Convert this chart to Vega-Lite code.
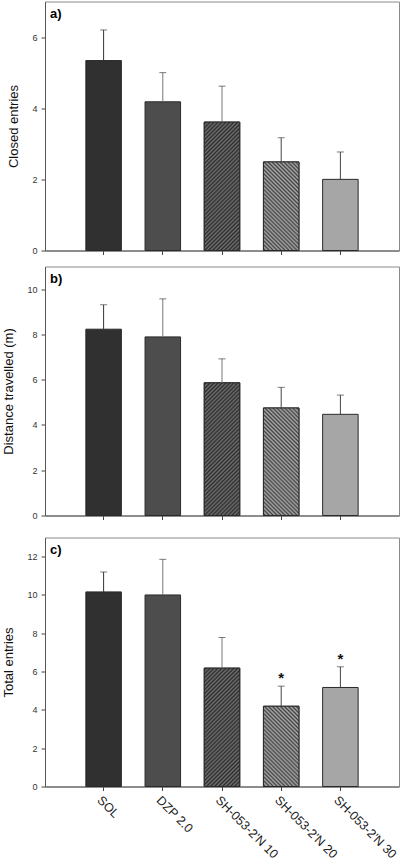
{
"$schema":"https://vega.github.io/schema/vega-lite/v6.json",
"padding":{"left":2,"top":0.5,"right":1,"bottom":0},
"spacing":9,
"config":{"font":"Liberation Sans","view":{"stroke":"#8a8a8a","strokeWidth":1},
"axis":{"domainColor":"#555","tickColor":"#444","tickSize":4,"labelColor":"#333","labelFontSize":9,"labelPadding":4,"titleFontSize":13,"titleFontWeight":"normal","titleColor":"#111","grid":false},
"concat":{"spacing":9}},
"vconcat":[
{
"width":354,"height":249,
"title":{"text":"a)","anchor":"start","frame":"group","offset":-19,"dx":5,"fontSize":13,"fontWeight":"bold","color":"#000"},
"data":{"values":[
{"group":"SOL","mean":5.34,"upper":6.2},
{"group":"DZP 2.0","mean":4.18,"upper":5.0},
{"group":"SH-053-2'N 10","mean":3.61,"upper":4.62},
{"group":"SH-053-2'N 20","mean":2.49,"upper":3.17},
{"group":"SH-053-2'N 30","mean":2.0,"upper":2.77}]},
"encoding":{
"x":{"field":"group","type":"nominal","sort":null,"scale":{"paddingInner":0.4,"paddingOuter":0.69},"axis":{"title":null,"labels":false}},
"y":{"field":"mean","type":"quantitative","title":"Closed entries","scale":{"domain":[0,7],"nice":false},"axis":{"values":[0,2,4,6],"titlePadding":11}}},
"layer":[
{"mark":{"type":"bar","stroke":"#2a2a2a","strokeWidth":1},"encoding":{"color":{"field":"group","type":"nominal","sort":null,"scale":{"range":["#303030","#4d4d4d","#555555","#787878","#a6a6a6"]},"legend":null}}},
{"transform":[{"filter":{"field":"group","equal":"SH-053-2'N 10"}}],"mark":{"type":"bar","stroke":"#2a2a2a","strokeWidth":1,"fill":{"gradient":"linear","x1":0,"y1":0,"x2":0.396,"y2":1.433,"stops":[{"offset":0,"color":"#6f6f6f"},{"offset":0.01,"color":"#2d2d2d"},{"offset":0.02,"color":"#6f6f6f"},{"offset":0.03,"color":"#2d2d2d"},{"offset":0.04,"color":"#6f6f6f"},{"offset":0.05,"color":"#2d2d2d"},{"offset":0.06,"color":"#6f6f6f"},{"offset":0.07,"color":"#2d2d2d"},{"offset":0.08,"color":"#6f6f6f"},{"offset":0.09,"color":"#2d2d2d"},{"offset":0.1,"color":"#6f6f6f"},{"offset":0.11,"color":"#2d2d2d"},{"offset":0.12,"color":"#6f6f6f"},{"offset":0.13,"color":"#2d2d2d"},{"offset":0.14,"color":"#6f6f6f"},{"offset":0.15,"color":"#2d2d2d"},{"offset":0.16,"color":"#6f6f6f"},{"offset":0.17,"color":"#2d2d2d"},{"offset":0.18,"color":"#6f6f6f"},{"offset":0.19,"color":"#2d2d2d"},{"offset":0.2,"color":"#6f6f6f"},{"offset":0.21,"color":"#2d2d2d"},{"offset":0.22,"color":"#6f6f6f"},{"offset":0.23,"color":"#2d2d2d"},{"offset":0.24,"color":"#6f6f6f"},{"offset":0.25,"color":"#2d2d2d"},{"offset":0.26,"color":"#6f6f6f"},{"offset":0.27,"color":"#2d2d2d"},{"offset":0.28,"color":"#6f6f6f"},{"offset":0.29,"color":"#2d2d2d"},{"offset":0.3,"color":"#6f6f6f"},{"offset":0.31,"color":"#2d2d2d"},{"offset":0.32,"color":"#6f6f6f"},{"offset":0.33,"color":"#2d2d2d"},{"offset":0.34,"color":"#6f6f6f"},{"offset":0.35,"color":"#2d2d2d"},{"offset":0.36,"color":"#6f6f6f"},{"offset":0.37,"color":"#2d2d2d"},{"offset":0.38,"color":"#6f6f6f"},{"offset":0.39,"color":"#2d2d2d"},{"offset":0.4,"color":"#6f6f6f"},{"offset":0.41,"color":"#2d2d2d"},{"offset":0.42,"color":"#6f6f6f"},{"offset":0.43,"color":"#2d2d2d"},{"offset":0.44,"color":"#6f6f6f"},{"offset":0.45,"color":"#2d2d2d"},{"offset":0.46,"color":"#6f6f6f"},{"offset":0.47,"color":"#2d2d2d"},{"offset":0.48,"color":"#6f6f6f"},{"offset":0.49,"color":"#2d2d2d"},{"offset":0.5,"color":"#6f6f6f"},{"offset":0.51,"color":"#2d2d2d"},{"offset":0.52,"color":"#6f6f6f"},{"offset":0.53,"color":"#2d2d2d"},{"offset":0.54,"color":"#6f6f6f"},{"offset":0.55,"color":"#2d2d2d"},{"offset":0.56,"color":"#6f6f6f"},{"offset":0.57,"color":"#2d2d2d"},{"offset":0.58,"color":"#6f6f6f"},{"offset":0.59,"color":"#2d2d2d"},{"offset":0.6,"color":"#6f6f6f"},{"offset":0.61,"color":"#2d2d2d"},{"offset":0.62,"color":"#6f6f6f"},{"offset":0.63,"color":"#2d2d2d"},{"offset":0.64,"color":"#6f6f6f"},{"offset":0.65,"color":"#2d2d2d"},{"offset":0.66,"color":"#6f6f6f"},{"offset":0.67,"color":"#2d2d2d"},{"offset":0.68,"color":"#6f6f6f"},{"offset":0.69,"color":"#2d2d2d"},{"offset":0.7,"color":"#6f6f6f"},{"offset":0.71,"color":"#2d2d2d"},{"offset":0.72,"color":"#6f6f6f"},{"offset":0.73,"color":"#2d2d2d"},{"offset":0.74,"color":"#6f6f6f"},{"offset":0.75,"color":"#2d2d2d"},{"offset":0.76,"color":"#6f6f6f"},{"offset":0.77,"color":"#2d2d2d"},{"offset":0.78,"color":"#6f6f6f"},{"offset":0.79,"color":"#2d2d2d"},{"offset":0.8,"color":"#6f6f6f"},{"offset":0.81,"color":"#2d2d2d"},{"offset":0.82,"color":"#6f6f6f"},{"offset":0.83,"color":"#2d2d2d"},{"offset":0.84,"color":"#6f6f6f"},{"offset":0.85,"color":"#2d2d2d"},{"offset":0.86,"color":"#6f6f6f"},{"offset":0.87,"color":"#2d2d2d"},{"offset":0.88,"color":"#6f6f6f"},{"offset":0.89,"color":"#2d2d2d"},{"offset":0.9,"color":"#6f6f6f"},{"offset":0.91,"color":"#2d2d2d"},{"offset":0.92,"color":"#6f6f6f"},{"offset":0.93,"color":"#2d2d2d"},{"offset":0.94,"color":"#6f6f6f"},{"offset":0.95,"color":"#2d2d2d"},{"offset":0.96,"color":"#6f6f6f"},{"offset":0.97,"color":"#2d2d2d"},{"offset":0.98,"color":"#6f6f6f"},{"offset":0.99,"color":"#2d2d2d"},{"offset":1,"color":"#6f6f6f"}]}}},
{"transform":[{"filter":{"field":"group","equal":"SH-053-2'N 20"}}],"mark":{"type":"bar","stroke":"#2a2a2a","strokeWidth":1,"fill":{"gradient":"linear","x1":0,"y1":1,"x2":0.772,"y2":-0.926,"stops":[{"offset":0,"color":"#a9a9a9"},{"offset":0.01,"color":"#444444"},{"offset":0.02,"color":"#a9a9a9"},{"offset":0.03,"color":"#444444"},{"offset":0.04,"color":"#a9a9a9"},{"offset":0.05,"color":"#444444"},{"offset":0.06,"color":"#a9a9a9"},{"offset":0.07,"color":"#444444"},{"offset":0.08,"color":"#a9a9a9"},{"offset":0.09,"color":"#444444"},{"offset":0.1,"color":"#a9a9a9"},{"offset":0.11,"color":"#444444"},{"offset":0.12,"color":"#a9a9a9"},{"offset":0.13,"color":"#444444"},{"offset":0.14,"color":"#a9a9a9"},{"offset":0.15,"color":"#444444"},{"offset":0.16,"color":"#a9a9a9"},{"offset":0.17,"color":"#444444"},{"offset":0.18,"color":"#a9a9a9"},{"offset":0.19,"color":"#444444"},{"offset":0.2,"color":"#a9a9a9"},{"offset":0.21,"color":"#444444"},{"offset":0.22,"color":"#a9a9a9"},{"offset":0.23,"color":"#444444"},{"offset":0.24,"color":"#a9a9a9"},{"offset":0.25,"color":"#444444"},{"offset":0.26,"color":"#a9a9a9"},{"offset":0.27,"color":"#444444"},{"offset":0.28,"color":"#a9a9a9"},{"offset":0.29,"color":"#444444"},{"offset":0.3,"color":"#a9a9a9"},{"offset":0.31,"color":"#444444"},{"offset":0.32,"color":"#a9a9a9"},{"offset":0.33,"color":"#444444"},{"offset":0.34,"color":"#a9a9a9"},{"offset":0.35,"color":"#444444"},{"offset":0.36,"color":"#a9a9a9"},{"offset":0.37,"color":"#444444"},{"offset":0.38,"color":"#a9a9a9"},{"offset":0.39,"color":"#444444"},{"offset":0.4,"color":"#a9a9a9"},{"offset":0.41,"color":"#444444"},{"offset":0.42,"color":"#a9a9a9"},{"offset":0.43,"color":"#444444"},{"offset":0.44,"color":"#a9a9a9"},{"offset":0.45,"color":"#444444"},{"offset":0.46,"color":"#a9a9a9"},{"offset":0.47,"color":"#444444"},{"offset":0.48,"color":"#a9a9a9"},{"offset":0.49,"color":"#444444"},{"offset":0.5,"color":"#a9a9a9"},{"offset":0.51,"color":"#444444"},{"offset":0.52,"color":"#a9a9a9"},{"offset":0.53,"color":"#444444"},{"offset":0.54,"color":"#a9a9a9"},{"offset":0.55,"color":"#444444"},{"offset":0.56,"color":"#a9a9a9"},{"offset":0.57,"color":"#444444"},{"offset":0.58,"color":"#a9a9a9"},{"offset":0.59,"color":"#444444"},{"offset":0.6,"color":"#a9a9a9"},{"offset":0.61,"color":"#444444"},{"offset":0.62,"color":"#a9a9a9"},{"offset":0.63,"color":"#444444"},{"offset":0.64,"color":"#a9a9a9"},{"offset":0.65,"color":"#444444"},{"offset":0.66,"color":"#a9a9a9"},{"offset":0.67,"color":"#444444"},{"offset":0.68,"color":"#a9a9a9"},{"offset":0.69,"color":"#444444"},{"offset":0.7,"color":"#a9a9a9"},{"offset":0.71,"color":"#444444"},{"offset":0.72,"color":"#a9a9a9"},{"offset":0.73,"color":"#444444"},{"offset":0.74,"color":"#a9a9a9"},{"offset":0.75,"color":"#444444"},{"offset":0.76,"color":"#a9a9a9"},{"offset":0.77,"color":"#444444"},{"offset":0.78,"color":"#a9a9a9"},{"offset":0.79,"color":"#444444"},{"offset":0.8,"color":"#a9a9a9"},{"offset":0.81,"color":"#444444"},{"offset":0.82,"color":"#a9a9a9"},{"offset":0.83,"color":"#444444"},{"offset":0.84,"color":"#a9a9a9"},{"offset":0.85,"color":"#444444"},{"offset":0.86,"color":"#a9a9a9"},{"offset":0.87,"color":"#444444"},{"offset":0.88,"color":"#a9a9a9"},{"offset":0.89,"color":"#444444"},{"offset":0.9,"color":"#a9a9a9"},{"offset":0.91,"color":"#444444"},{"offset":0.92,"color":"#a9a9a9"},{"offset":0.93,"color":"#444444"},{"offset":0.94,"color":"#a9a9a9"},{"offset":0.95,"color":"#444444"},{"offset":0.96,"color":"#a9a9a9"},{"offset":0.97,"color":"#444444"},{"offset":0.98,"color":"#a9a9a9"},{"offset":0.99,"color":"#444444"},{"offset":1,"color":"#a9a9a9"}]}}},
{"mark":{"type":"rule","strokeWidth":1},"encoding":{"y2":{"field":"upper"},"stroke":{"field":"group","type":"nominal","sort":null,"scale":{"range":["#333333","#777777","#777777","#444444","#444444"]},"legend":null}}},
{"mark":{"type":"tick","color":"#444","size":7,"thickness":1},"encoding":{"y":{"field":"upper","type":"quantitative","title":"Closed entries","scale":{"domain":[0,7],"nice":false},"axis":{"values":[0,2,4,6],"titlePadding":11}}}}
]
},
{
"width":354,"height":249,
"title":{"text":"b)","anchor":"start","frame":"group","offset":-19,"dx":5,"fontSize":13,"fontWeight":"bold","color":"#000"},
"data":{"values":[
{"group":"SOL","mean":8.23,"upper":9.31},
{"group":"DZP 2.0","mean":7.89,"upper":9.57},
{"group":"SH-053-2'N 10","mean":5.86,"upper":6.92},
{"group":"SH-053-2'N 20","mean":4.75,"upper":5.66},
{"group":"SH-053-2'N 30","mean":4.47,"upper":5.32}]},
"encoding":{
"x":{"field":"group","type":"nominal","sort":null,"scale":{"paddingInner":0.4,"paddingOuter":0.69},"axis":{"title":" ","titleFontSize":7,"titlePadding":0,"labels":false}},
"y":{"field":"mean","type":"quantitative","title":"Distance travelled (m)","scale":{"domain":[0,11],"nice":false},"axis":{"values":[0,2,4,6,8,10],"titlePadding":11}}},
"layer":[
{"mark":{"type":"bar","stroke":"#2a2a2a","strokeWidth":1},"encoding":{"color":{"field":"group","type":"nominal","sort":null,"scale":{"range":["#303030","#4d4d4d","#555555","#787878","#a6a6a6"]},"legend":null}}},
{"transform":[{"filter":{"field":"group","equal":"SH-053-2'N 10"}}],"mark":{"type":"bar","stroke":"#2a2a2a","strokeWidth":1,"fill":{"gradient":"linear","x1":0,"y1":0,"x2":0.3725,"y2":1.392,"stops":[{"offset":0,"color":"#6f6f6f"},{"offset":0.01,"color":"#2d2d2d"},{"offset":0.02,"color":"#6f6f6f"},{"offset":0.03,"color":"#2d2d2d"},{"offset":0.04,"color":"#6f6f6f"},{"offset":0.05,"color":"#2d2d2d"},{"offset":0.06,"color":"#6f6f6f"},{"offset":0.07,"color":"#2d2d2d"},{"offset":0.08,"color":"#6f6f6f"},{"offset":0.09,"color":"#2d2d2d"},{"offset":0.1,"color":"#6f6f6f"},{"offset":0.11,"color":"#2d2d2d"},{"offset":0.12,"color":"#6f6f6f"},{"offset":0.13,"color":"#2d2d2d"},{"offset":0.14,"color":"#6f6f6f"},{"offset":0.15,"color":"#2d2d2d"},{"offset":0.16,"color":"#6f6f6f"},{"offset":0.17,"color":"#2d2d2d"},{"offset":0.18,"color":"#6f6f6f"},{"offset":0.19,"color":"#2d2d2d"},{"offset":0.2,"color":"#6f6f6f"},{"offset":0.21,"color":"#2d2d2d"},{"offset":0.22,"color":"#6f6f6f"},{"offset":0.23,"color":"#2d2d2d"},{"offset":0.24,"color":"#6f6f6f"},{"offset":0.25,"color":"#2d2d2d"},{"offset":0.26,"color":"#6f6f6f"},{"offset":0.27,"color":"#2d2d2d"},{"offset":0.28,"color":"#6f6f6f"},{"offset":0.29,"color":"#2d2d2d"},{"offset":0.3,"color":"#6f6f6f"},{"offset":0.31,"color":"#2d2d2d"},{"offset":0.32,"color":"#6f6f6f"},{"offset":0.33,"color":"#2d2d2d"},{"offset":0.34,"color":"#6f6f6f"},{"offset":0.35,"color":"#2d2d2d"},{"offset":0.36,"color":"#6f6f6f"},{"offset":0.37,"color":"#2d2d2d"},{"offset":0.38,"color":"#6f6f6f"},{"offset":0.39,"color":"#2d2d2d"},{"offset":0.4,"color":"#6f6f6f"},{"offset":0.41,"color":"#2d2d2d"},{"offset":0.42,"color":"#6f6f6f"},{"offset":0.43,"color":"#2d2d2d"},{"offset":0.44,"color":"#6f6f6f"},{"offset":0.45,"color":"#2d2d2d"},{"offset":0.46,"color":"#6f6f6f"},{"offset":0.47,"color":"#2d2d2d"},{"offset":0.48,"color":"#6f6f6f"},{"offset":0.49,"color":"#2d2d2d"},{"offset":0.5,"color":"#6f6f6f"},{"offset":0.51,"color":"#2d2d2d"},{"offset":0.52,"color":"#6f6f6f"},{"offset":0.53,"color":"#2d2d2d"},{"offset":0.54,"color":"#6f6f6f"},{"offset":0.55,"color":"#2d2d2d"},{"offset":0.56,"color":"#6f6f6f"},{"offset":0.57,"color":"#2d2d2d"},{"offset":0.58,"color":"#6f6f6f"},{"offset":0.59,"color":"#2d2d2d"},{"offset":0.6,"color":"#6f6f6f"},{"offset":0.61,"color":"#2d2d2d"},{"offset":0.62,"color":"#6f6f6f"},{"offset":0.63,"color":"#2d2d2d"},{"offset":0.64,"color":"#6f6f6f"},{"offset":0.65,"color":"#2d2d2d"},{"offset":0.66,"color":"#6f6f6f"},{"offset":0.67,"color":"#2d2d2d"},{"offset":0.68,"color":"#6f6f6f"},{"offset":0.69,"color":"#2d2d2d"},{"offset":0.7,"color":"#6f6f6f"},{"offset":0.71,"color":"#2d2d2d"},{"offset":0.72,"color":"#6f6f6f"},{"offset":0.73,"color":"#2d2d2d"},{"offset":0.74,"color":"#6f6f6f"},{"offset":0.75,"color":"#2d2d2d"},{"offset":0.76,"color":"#6f6f6f"},{"offset":0.77,"color":"#2d2d2d"},{"offset":0.78,"color":"#6f6f6f"},{"offset":0.79,"color":"#2d2d2d"},{"offset":0.8,"color":"#6f6f6f"},{"offset":0.81,"color":"#2d2d2d"},{"offset":0.82,"color":"#6f6f6f"},{"offset":0.83,"color":"#2d2d2d"},{"offset":0.84,"color":"#6f6f6f"},{"offset":0.85,"color":"#2d2d2d"},{"offset":0.86,"color":"#6f6f6f"},{"offset":0.87,"color":"#2d2d2d"},{"offset":0.88,"color":"#6f6f6f"},{"offset":0.89,"color":"#2d2d2d"},{"offset":0.9,"color":"#6f6f6f"},{"offset":0.91,"color":"#2d2d2d"},{"offset":0.92,"color":"#6f6f6f"},{"offset":0.93,"color":"#2d2d2d"},{"offset":0.94,"color":"#6f6f6f"},{"offset":0.95,"color":"#2d2d2d"},{"offset":0.96,"color":"#6f6f6f"},{"offset":0.97,"color":"#2d2d2d"},{"offset":0.98,"color":"#6f6f6f"},{"offset":0.99,"color":"#2d2d2d"},{"offset":1,"color":"#6f6f6f"}]}}},
{"transform":[{"filter":{"field":"group","equal":"SH-053-2'N 20"}}],"mark":{"type":"bar","stroke":"#2a2a2a","strokeWidth":1,"fill":{"gradient":"linear","x1":0,"y1":1,"x2":0.548,"y2":-0.661,"stops":[{"offset":0,"color":"#a9a9a9"},{"offset":0.01,"color":"#444444"},{"offset":0.02,"color":"#a9a9a9"},{"offset":0.03,"color":"#444444"},{"offset":0.04,"color":"#a9a9a9"},{"offset":0.05,"color":"#444444"},{"offset":0.06,"color":"#a9a9a9"},{"offset":0.07,"color":"#444444"},{"offset":0.08,"color":"#a9a9a9"},{"offset":0.09,"color":"#444444"},{"offset":0.1,"color":"#a9a9a9"},{"offset":0.11,"color":"#444444"},{"offset":0.12,"color":"#a9a9a9"},{"offset":0.13,"color":"#444444"},{"offset":0.14,"color":"#a9a9a9"},{"offset":0.15,"color":"#444444"},{"offset":0.16,"color":"#a9a9a9"},{"offset":0.17,"color":"#444444"},{"offset":0.18,"color":"#a9a9a9"},{"offset":0.19,"color":"#444444"},{"offset":0.2,"color":"#a9a9a9"},{"offset":0.21,"color":"#444444"},{"offset":0.22,"color":"#a9a9a9"},{"offset":0.23,"color":"#444444"},{"offset":0.24,"color":"#a9a9a9"},{"offset":0.25,"color":"#444444"},{"offset":0.26,"color":"#a9a9a9"},{"offset":0.27,"color":"#444444"},{"offset":0.28,"color":"#a9a9a9"},{"offset":0.29,"color":"#444444"},{"offset":0.3,"color":"#a9a9a9"},{"offset":0.31,"color":"#444444"},{"offset":0.32,"color":"#a9a9a9"},{"offset":0.33,"color":"#444444"},{"offset":0.34,"color":"#a9a9a9"},{"offset":0.35,"color":"#444444"},{"offset":0.36,"color":"#a9a9a9"},{"offset":0.37,"color":"#444444"},{"offset":0.38,"color":"#a9a9a9"},{"offset":0.39,"color":"#444444"},{"offset":0.4,"color":"#a9a9a9"},{"offset":0.41,"color":"#444444"},{"offset":0.42,"color":"#a9a9a9"},{"offset":0.43,"color":"#444444"},{"offset":0.44,"color":"#a9a9a9"},{"offset":0.45,"color":"#444444"},{"offset":0.46,"color":"#a9a9a9"},{"offset":0.47,"color":"#444444"},{"offset":0.48,"color":"#a9a9a9"},{"offset":0.49,"color":"#444444"},{"offset":0.5,"color":"#a9a9a9"},{"offset":0.51,"color":"#444444"},{"offset":0.52,"color":"#a9a9a9"},{"offset":0.53,"color":"#444444"},{"offset":0.54,"color":"#a9a9a9"},{"offset":0.55,"color":"#444444"},{"offset":0.56,"color":"#a9a9a9"},{"offset":0.57,"color":"#444444"},{"offset":0.58,"color":"#a9a9a9"},{"offset":0.59,"color":"#444444"},{"offset":0.6,"color":"#a9a9a9"},{"offset":0.61,"color":"#444444"},{"offset":0.62,"color":"#a9a9a9"},{"offset":0.63,"color":"#444444"},{"offset":0.64,"color":"#a9a9a9"},{"offset":0.65,"color":"#444444"},{"offset":0.66,"color":"#a9a9a9"},{"offset":0.67,"color":"#444444"},{"offset":0.68,"color":"#a9a9a9"},{"offset":0.69,"color":"#444444"},{"offset":0.7,"color":"#a9a9a9"},{"offset":0.71,"color":"#444444"},{"offset":0.72,"color":"#a9a9a9"},{"offset":0.73,"color":"#444444"},{"offset":0.74,"color":"#a9a9a9"},{"offset":0.75,"color":"#444444"},{"offset":0.76,"color":"#a9a9a9"},{"offset":0.77,"color":"#444444"},{"offset":0.78,"color":"#a9a9a9"},{"offset":0.79,"color":"#444444"},{"offset":0.8,"color":"#a9a9a9"},{"offset":0.81,"color":"#444444"},{"offset":0.82,"color":"#a9a9a9"},{"offset":0.83,"color":"#444444"},{"offset":0.84,"color":"#a9a9a9"},{"offset":0.85,"color":"#444444"},{"offset":0.86,"color":"#a9a9a9"},{"offset":0.87,"color":"#444444"},{"offset":0.88,"color":"#a9a9a9"},{"offset":0.89,"color":"#444444"},{"offset":0.9,"color":"#a9a9a9"},{"offset":0.91,"color":"#444444"},{"offset":0.92,"color":"#a9a9a9"},{"offset":0.93,"color":"#444444"},{"offset":0.94,"color":"#a9a9a9"},{"offset":0.95,"color":"#444444"},{"offset":0.96,"color":"#a9a9a9"},{"offset":0.97,"color":"#444444"},{"offset":0.98,"color":"#a9a9a9"},{"offset":0.99,"color":"#444444"},{"offset":1,"color":"#a9a9a9"}]}}},
{"mark":{"type":"rule","strokeWidth":1},"encoding":{"y2":{"field":"upper"},"stroke":{"field":"group","type":"nominal","sort":null,"scale":{"range":["#333333","#777777","#777777","#444444","#444444"]},"legend":null}}},
{"mark":{"type":"tick","color":"#444","size":7,"thickness":1},"encoding":{"y":{"field":"upper","type":"quantitative","title":"Distance travelled (m)","scale":{"domain":[0,11],"nice":false},"axis":{"values":[0,2,4,6,8,10],"titlePadding":11}}}}
]
},
{
"width":354,"height":249,
"title":{"text":"c)","anchor":"start","frame":"group","offset":-19,"dx":5,"fontSize":13,"fontWeight":"bold","color":"#000"},
"data":{"values":[
{"group":"SOL","mean":10.16,"upper":11.2},
{"group":"DZP 2.0","mean":10.0,"upper":11.86},
{"group":"SH-053-2'N 10","mean":6.18,"upper":7.78},
{"group":"SH-053-2'N 20","mean":4.19,"upper":5.24,"sig":"*"},
{"group":"SH-053-2'N 30","mean":5.17,"upper":6.25,"sig":"*"}]},
"encoding":{
"x":{"field":"group","type":"nominal","sort":null,"scale":{"paddingInner":0.4,"paddingOuter":0.69},"axis":{"title":null,"labelAngle":45,"labelFontSize":12.5,"labelColor":"#222","labelPadding":3}},
"y":{"field":"mean","type":"quantitative","title":"Total entries","scale":{"domain":[0,13],"nice":false},"axis":{"values":[0,2,4,6,8,10,12],"titlePadding":11}}},
"layer":[
{"mark":{"type":"bar","stroke":"#2a2a2a","strokeWidth":1},"encoding":{"color":{"field":"group","type":"nominal","sort":null,"scale":{"range":["#303030","#4d4d4d","#555555","#787878","#a6a6a6"]},"legend":null}}},
{"transform":[{"filter":{"field":"group","equal":"SH-053-2'N 10"}}],"mark":{"type":"bar","stroke":"#2a2a2a","strokeWidth":1,"fill":{"gradient":"linear","x1":0,"y1":0,"x2":0.46,"y2":1.534,"stops":[{"offset":0,"color":"#6f6f6f"},{"offset":0.01,"color":"#2d2d2d"},{"offset":0.02,"color":"#6f6f6f"},{"offset":0.03,"color":"#2d2d2d"},{"offset":0.04,"color":"#6f6f6f"},{"offset":0.05,"color":"#2d2d2d"},{"offset":0.06,"color":"#6f6f6f"},{"offset":0.07,"color":"#2d2d2d"},{"offset":0.08,"color":"#6f6f6f"},{"offset":0.09,"color":"#2d2d2d"},{"offset":0.1,"color":"#6f6f6f"},{"offset":0.11,"color":"#2d2d2d"},{"offset":0.12,"color":"#6f6f6f"},{"offset":0.13,"color":"#2d2d2d"},{"offset":0.14,"color":"#6f6f6f"},{"offset":0.15,"color":"#2d2d2d"},{"offset":0.16,"color":"#6f6f6f"},{"offset":0.17,"color":"#2d2d2d"},{"offset":0.18,"color":"#6f6f6f"},{"offset":0.19,"color":"#2d2d2d"},{"offset":0.2,"color":"#6f6f6f"},{"offset":0.21,"color":"#2d2d2d"},{"offset":0.22,"color":"#6f6f6f"},{"offset":0.23,"color":"#2d2d2d"},{"offset":0.24,"color":"#6f6f6f"},{"offset":0.25,"color":"#2d2d2d"},{"offset":0.26,"color":"#6f6f6f"},{"offset":0.27,"color":"#2d2d2d"},{"offset":0.28,"color":"#6f6f6f"},{"offset":0.29,"color":"#2d2d2d"},{"offset":0.3,"color":"#6f6f6f"},{"offset":0.31,"color":"#2d2d2d"},{"offset":0.32,"color":"#6f6f6f"},{"offset":0.33,"color":"#2d2d2d"},{"offset":0.34,"color":"#6f6f6f"},{"offset":0.35,"color":"#2d2d2d"},{"offset":0.36,"color":"#6f6f6f"},{"offset":0.37,"color":"#2d2d2d"},{"offset":0.38,"color":"#6f6f6f"},{"offset":0.39,"color":"#2d2d2d"},{"offset":0.4,"color":"#6f6f6f"},{"offset":0.41,"color":"#2d2d2d"},{"offset":0.42,"color":"#6f6f6f"},{"offset":0.43,"color":"#2d2d2d"},{"offset":0.44,"color":"#6f6f6f"},{"offset":0.45,"color":"#2d2d2d"},{"offset":0.46,"color":"#6f6f6f"},{"offset":0.47,"color":"#2d2d2d"},{"offset":0.48,"color":"#6f6f6f"},{"offset":0.49,"color":"#2d2d2d"},{"offset":0.5,"color":"#6f6f6f"},{"offset":0.51,"color":"#2d2d2d"},{"offset":0.52,"color":"#6f6f6f"},{"offset":0.53,"color":"#2d2d2d"},{"offset":0.54,"color":"#6f6f6f"},{"offset":0.55,"color":"#2d2d2d"},{"offset":0.56,"color":"#6f6f6f"},{"offset":0.57,"color":"#2d2d2d"},{"offset":0.58,"color":"#6f6f6f"},{"offset":0.59,"color":"#2d2d2d"},{"offset":0.6,"color":"#6f6f6f"},{"offset":0.61,"color":"#2d2d2d"},{"offset":0.62,"color":"#6f6f6f"},{"offset":0.63,"color":"#2d2d2d"},{"offset":0.64,"color":"#6f6f6f"},{"offset":0.65,"color":"#2d2d2d"},{"offset":0.66,"color":"#6f6f6f"},{"offset":0.67,"color":"#2d2d2d"},{"offset":0.68,"color":"#6f6f6f"},{"offset":0.69,"color":"#2d2d2d"},{"offset":0.7,"color":"#6f6f6f"},{"offset":0.71,"color":"#2d2d2d"},{"offset":0.72,"color":"#6f6f6f"},{"offset":0.73,"color":"#2d2d2d"},{"offset":0.74,"color":"#6f6f6f"},{"offset":0.75,"color":"#2d2d2d"},{"offset":0.76,"color":"#6f6f6f"},{"offset":0.77,"color":"#2d2d2d"},{"offset":0.78,"color":"#6f6f6f"},{"offset":0.79,"color":"#2d2d2d"},{"offset":0.8,"color":"#6f6f6f"},{"offset":0.81,"color":"#2d2d2d"},{"offset":0.82,"color":"#6f6f6f"},{"offset":0.83,"color":"#2d2d2d"},{"offset":0.84,"color":"#6f6f6f"},{"offset":0.85,"color":"#2d2d2d"},{"offset":0.86,"color":"#6f6f6f"},{"offset":0.87,"color":"#2d2d2d"},{"offset":0.88,"color":"#6f6f6f"},{"offset":0.89,"color":"#2d2d2d"},{"offset":0.9,"color":"#6f6f6f"},{"offset":0.91,"color":"#2d2d2d"},{"offset":0.92,"color":"#6f6f6f"},{"offset":0.93,"color":"#2d2d2d"},{"offset":0.94,"color":"#6f6f6f"},{"offset":0.95,"color":"#2d2d2d"},{"offset":0.96,"color":"#6f6f6f"},{"offset":0.97,"color":"#2d2d2d"},{"offset":0.98,"color":"#6f6f6f"},{"offset":0.99,"color":"#2d2d2d"},{"offset":1,"color":"#6f6f6f"}]}}},
{"transform":[{"filter":{"field":"group","equal":"SH-053-2'N 20"}}],"mark":{"type":"bar","stroke":"#2a2a2a","strokeWidth":1,"fill":{"gradient":"linear","x1":0,"y1":1,"x2":0.914,"y2":-1.064,"stops":[{"offset":0,"color":"#a9a9a9"},{"offset":0.01,"color":"#444444"},{"offset":0.02,"color":"#a9a9a9"},{"offset":0.03,"color":"#444444"},{"offset":0.04,"color":"#a9a9a9"},{"offset":0.05,"color":"#444444"},{"offset":0.06,"color":"#a9a9a9"},{"offset":0.07,"color":"#444444"},{"offset":0.08,"color":"#a9a9a9"},{"offset":0.09,"color":"#444444"},{"offset":0.1,"color":"#a9a9a9"},{"offset":0.11,"color":"#444444"},{"offset":0.12,"color":"#a9a9a9"},{"offset":0.13,"color":"#444444"},{"offset":0.14,"color":"#a9a9a9"},{"offset":0.15,"color":"#444444"},{"offset":0.16,"color":"#a9a9a9"},{"offset":0.17,"color":"#444444"},{"offset":0.18,"color":"#a9a9a9"},{"offset":0.19,"color":"#444444"},{"offset":0.2,"color":"#a9a9a9"},{"offset":0.21,"color":"#444444"},{"offset":0.22,"color":"#a9a9a9"},{"offset":0.23,"color":"#444444"},{"offset":0.24,"color":"#a9a9a9"},{"offset":0.25,"color":"#444444"},{"offset":0.26,"color":"#a9a9a9"},{"offset":0.27,"color":"#444444"},{"offset":0.28,"color":"#a9a9a9"},{"offset":0.29,"color":"#444444"},{"offset":0.3,"color":"#a9a9a9"},{"offset":0.31,"color":"#444444"},{"offset":0.32,"color":"#a9a9a9"},{"offset":0.33,"color":"#444444"},{"offset":0.34,"color":"#a9a9a9"},{"offset":0.35,"color":"#444444"},{"offset":0.36,"color":"#a9a9a9"},{"offset":0.37,"color":"#444444"},{"offset":0.38,"color":"#a9a9a9"},{"offset":0.39,"color":"#444444"},{"offset":0.4,"color":"#a9a9a9"},{"offset":0.41,"color":"#444444"},{"offset":0.42,"color":"#a9a9a9"},{"offset":0.43,"color":"#444444"},{"offset":0.44,"color":"#a9a9a9"},{"offset":0.45,"color":"#444444"},{"offset":0.46,"color":"#a9a9a9"},{"offset":0.47,"color":"#444444"},{"offset":0.48,"color":"#a9a9a9"},{"offset":0.49,"color":"#444444"},{"offset":0.5,"color":"#a9a9a9"},{"offset":0.51,"color":"#444444"},{"offset":0.52,"color":"#a9a9a9"},{"offset":0.53,"color":"#444444"},{"offset":0.54,"color":"#a9a9a9"},{"offset":0.55,"color":"#444444"},{"offset":0.56,"color":"#a9a9a9"},{"offset":0.57,"color":"#444444"},{"offset":0.58,"color":"#a9a9a9"},{"offset":0.59,"color":"#444444"},{"offset":0.6,"color":"#a9a9a9"},{"offset":0.61,"color":"#444444"},{"offset":0.62,"color":"#a9a9a9"},{"offset":0.63,"color":"#444444"},{"offset":0.64,"color":"#a9a9a9"},{"offset":0.65,"color":"#444444"},{"offset":0.66,"color":"#a9a9a9"},{"offset":0.67,"color":"#444444"},{"offset":0.68,"color":"#a9a9a9"},{"offset":0.69,"color":"#444444"},{"offset":0.7,"color":"#a9a9a9"},{"offset":0.71,"color":"#444444"},{"offset":0.72,"color":"#a9a9a9"},{"offset":0.73,"color":"#444444"},{"offset":0.74,"color":"#a9a9a9"},{"offset":0.75,"color":"#444444"},{"offset":0.76,"color":"#a9a9a9"},{"offset":0.77,"color":"#444444"},{"offset":0.78,"color":"#a9a9a9"},{"offset":0.79,"color":"#444444"},{"offset":0.8,"color":"#a9a9a9"},{"offset":0.81,"color":"#444444"},{"offset":0.82,"color":"#a9a9a9"},{"offset":0.83,"color":"#444444"},{"offset":0.84,"color":"#a9a9a9"},{"offset":0.85,"color":"#444444"},{"offset":0.86,"color":"#a9a9a9"},{"offset":0.87,"color":"#444444"},{"offset":0.88,"color":"#a9a9a9"},{"offset":0.89,"color":"#444444"},{"offset":0.9,"color":"#a9a9a9"},{"offset":0.91,"color":"#444444"},{"offset":0.92,"color":"#a9a9a9"},{"offset":0.93,"color":"#444444"},{"offset":0.94,"color":"#a9a9a9"},{"offset":0.95,"color":"#444444"},{"offset":0.96,"color":"#a9a9a9"},{"offset":0.97,"color":"#444444"},{"offset":0.98,"color":"#a9a9a9"},{"offset":0.99,"color":"#444444"},{"offset":1,"color":"#a9a9a9"}]}}},
{"mark":{"type":"rule","strokeWidth":1},"encoding":{"y2":{"field":"upper"},"stroke":{"field":"group","type":"nominal","sort":null,"scale":{"range":["#333333","#777777","#777777","#444444","#444444"]},"legend":null}}},
{"mark":{"type":"tick","color":"#444","size":7,"thickness":1},"encoding":{"y":{"field":"upper","type":"quantitative","title":"Total entries","scale":{"domain":[0,13],"nice":false},"axis":{"values":[0,2,4,6,8,10,12],"titlePadding":11}}}},
{"transform":[{"filter":{"field":"sig","equal":"*"}}],"mark":{"type":"text","fontSize":15,"fontWeight":"bold","color":"#111","baseline":"middle","dy":-8},"encoding":{"y":{"field":"upper","type":"quantitative","title":"Total entries","scale":{"domain":[0,13],"nice":false},"axis":{"values":[0,2,4,6,8,10,12],"titlePadding":11}},"text":{"field":"sig"}}}
]
}
]
}
